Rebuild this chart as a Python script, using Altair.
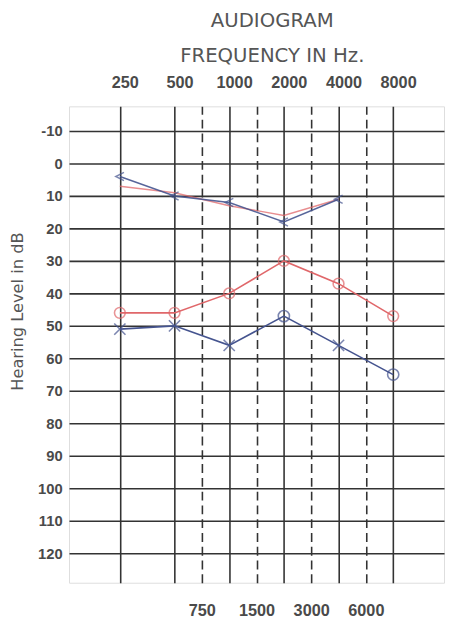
import altair as alt
import pandas as pd

# ---- data ----
octave_freqs = [250, 500, 1000, 2000, 4000, 8000]
half_freqs = [750, 1500, 3000, 6000]
db_ticks = list(range(-10, 130, 10))

# audiogram column position of each test frequency (octaves above 250 Hz, half-octave columns between)
freq_pos = {250: 0, 500: 1, 750: 1.5, 1000: 2, 1500: 2.5, 2000: 3,
            3000: 3.5, 4000: 4, 6000: 4.5, 8000: 5}

right_air_freq = [250, 500, 1000, 2000, 4000, 8000]
right_air_db = [46, 46, 40, 30, 37, 47]

left_air_freq = [250, 500, 1000, 2000, 4000, 8000]
left_air_db = [51, 50, 56, 47, 56, 65]
left_air_sym = ["x", "x", "x", "o", "x", "o"]

left_bone_freq = [250, 500, 1000, 2000, 4000]
left_bone_db = [4, 10, 12, 18, 11]

right_bone_freq = [250, 500, 1000, 2000, 4000]
right_bone_db = [7, 9, 13, 16, 11]

RED = "#e0676a"
BLUE = "#45548f"
GRID = "#333333"
FONT = "Liberation Sans"
TFONT = "DejaVu Sans"


def frame(freqs, dbs, **extra):
    df = pd.DataFrame({"freq": freqs, "db": dbs, **extra})
    df["pos"] = df["freq"].map(freq_pos)
    return df


ra = frame(right_air_freq, right_air_db)
la = frame(left_air_freq, left_air_db, sym=left_air_sym)
lb = frame(left_bone_freq, left_bone_db)
rb = frame(right_bone_freq, right_bone_db)

xscale = alt.Scale(domain=[-0.93, 5.93], nice=False, zero=False)
yscale = alt.Scale(domain=[-17.6, 129.1], nice=False, zero=False, reverse=True)

label_expr = ("datum.value == 0 ? '250' : datum.value == 1 ? '500' : datum.value == 2 ? '1000' : "
              "datum.value == 3 ? '2000' : datum.value == 4 ? '4000' : datum.value == 5 ? '8000' : "
              "datum.value == 1.5 ? '750' : datum.value == 2.5 ? '1500' : datum.value == 3.5 ? '3000' : "
              "datum.value == 4.5 ? '6000' : ''")

top_axis = alt.Axis(orient="top", values=[freq_pos[f] for f in octave_freqs], labelExpr=label_expr,
                    title=None, grid=True, gridColor=GRID, gridWidth=1.6, gridOpacity=1,
                    ticks=False, domain=False, labelPadding=16, labelOffset=5,
                    labelFont=FONT, labelFontSize=16.5, labelFontWeight="bold", labelColor="#4a4a4a")
bottom_axis = alt.Axis(orient="bottom", values=[freq_pos[f] for f in half_freqs], labelExpr=label_expr,
                       title=None, grid=True, gridColor=GRID, gridWidth=1.6, gridOpacity=1,
                       gridDash=[9, 5], ticks=False, domain=False, labelPadding=20,
                       labelFont=FONT, labelFontSize=16.5, labelFontWeight="bold", labelColor="#4a4a4a")
y_axis = alt.Axis(values=db_ticks, labelExpr="'' + datum.value", title="Hearing Level in dB",
                  grid=True, gridColor=GRID, gridWidth=1.6, gridOpacity=1, ticks=False, domain=False,
                  labelPadding=7, labelFont=FONT, labelFontSize=15, labelFontWeight="bold",
                  labelColor="#4a4a4a",
                  titleFont=TFONT, titleFontSize=16.5, titleFontWeight="normal", titleColor="#555555",
                  titleX=-52, titleY=208, titleAngle=-90, titleBaseline="middle")

Y = alt.Y("db:Q", scale=yscale, axis=y_axis)

xpath = "M-1,-1L1,1M-1,1L1,-1"

red_air_line = alt.Chart(ra).mark_line(color=RED, strokeWidth=1.6).encode(
    x=alt.X("pos:Q", scale=xscale, axis=top_axis), y=Y, order="pos:Q")
red_air_pts = alt.Chart(ra).mark_point(shape="circle", filled=False, color=RED, size=120,
                                       strokeWidth=1.6).encode(
    x=alt.X("pos:Q", scale=xscale, axis=None), y=Y)

blue_air_line = alt.Chart(la).mark_line(color=BLUE, strokeWidth=1.6).encode(
    x=alt.X("pos:Q", scale=xscale, axis=bottom_axis), y=Y, order="pos:Q")
blue_air_pts = alt.Chart(la).mark_point(filled=False, color=BLUE, size=130, strokeWidth=1.6).encode(
    x=alt.X("pos:Q", scale=xscale, axis=None), y=Y,
    shape=alt.Shape("sym:N", scale=alt.Scale(domain=["x", "o"], range=[xpath, "circle"]), legend=None))

blue_bone_line = alt.Chart(lb).mark_line(color=BLUE, strokeWidth=1.5, opacity=0.9).encode(
    x=alt.X("pos:Q", scale=xscale, axis=None), y=Y, order="pos:Q")
red_bone_line = alt.Chart(rb).mark_line(color=RED, strokeWidth=1.4, opacity=0.75).encode(
    x=alt.X("pos:Q", scale=xscale, axis=None), y=Y, order="pos:Q")
blue_bone_pts = alt.Chart(lb).mark_point(shape="M1,-1L-1,0L1,1", filled=False, color=BLUE, size=70,
                                         strokeWidth=1.5).encode(
    x=alt.X("pos:Q", scale=xscale, axis=None), y=Y)

chart = alt.layer(
    red_air_line, blue_air_line, red_bone_line, blue_bone_line,
    red_air_pts, blue_air_pts, blue_bone_pts
).resolve_axis(x="independent").properties(
    width=381, height=484,
    autosize=alt.AutoSizeParams(type="none"),
    padding={"left": 62, "top": 95, "right": 2, "bottom": 36},
    title=alt.TitleParams(text=["AUDIOGRAM", "FREQUENCY IN Hz."], anchor="middle", dx=16,
                          font=TFONT, fontSize=20, fontWeight="normal", color="#555555",
                          lineHeight=36, offset=9),
).configure_view(stroke=GRID, strokeWidth=1.8).configure(background="white")

chart.save("out.html", embed_options={"renderer": "svg", "actions": False})
